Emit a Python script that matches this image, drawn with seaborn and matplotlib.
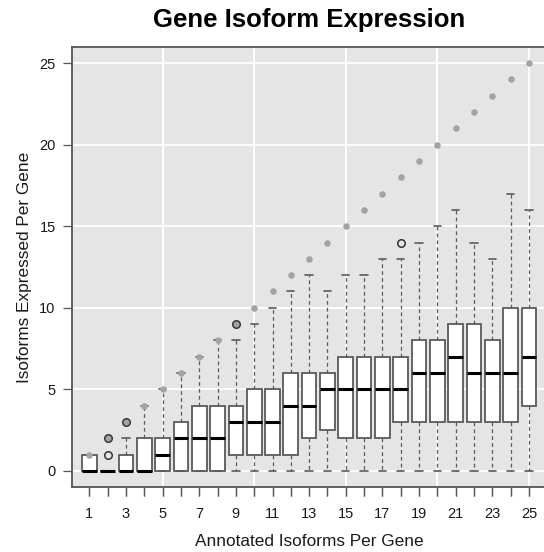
import numpy as np
import pandas as pd
import matplotlib
matplotlib.use("Agg")
import matplotlib.pyplot as plt
from matplotlib.markers import TICKDOWN
import seaborn as sns

# ---- data ----
annotated = [1, 2, 3, 4, 5, 6, 7, 8, 9, 10, 11, 12, 13, 14, 15, 16, 17, 18, 19, 20, 21, 22, 23, 24, 25]
max_possible = [1, 2, 3, 4, 5, 6, 7, 8, 9, 10, 11, 12, 13, 14, 15, 16, 17, 18, 19, 20, 21, 22, 23, 24, 25]
q1 = [0, 0, 0, 0, 0, 0, 0, 0, 1, 1, 1, 1, 2, 2.5, 2, 2, 2, 3, 3, 3, 3, 3, 3, 3, 4]
median = [0, 0, 0, 0, 1, 2, 2, 2, 3, 3, 3, 4, 4, 5, 5, 5, 5, 5, 6, 6, 7, 6, 6, 6, 7]
q3 = [1, 0, 1, 2, 2, 3, 4, 4, 4, 5, 5, 6, 6, 6, 7, 7, 7, 7, 8, 8, 9, 9, 8, 10, 10]
whisker_low = [0] * 25
whisker_high = [1, 0, 2, 4, 5, 6, 7, 8, 8, 9, 10, 11, 12, 11, 12, 12, 13, 13, 14, 15, 16, 14, 13, 17, 16]
outliers = [[], [1, 2], [3], [], [], [], [], [], [9], [], [], [], [], [], [], [], [], [14],
            [], [], [], [], [], [], []]
x_tick_labels = ["1", "", "3", "", "5", "", "7", "", "9", "", "11", "", "13", "", "15", "",
                 "17", "", "19", "", "21", "", "23", "", "25"]
x_grid = [5, 10, 15, 20, 25]
y_ticks = [0, 5, 10, 15, 20, 25]

sns.set_theme(style="darkgrid", rc={"axes.facecolor": "#e5e5e5", "grid.color": "white",
                                    "xtick.bottom": True, "ytick.left": True,
                                    "xtick.major.size": 6.5, "ytick.major.size": 6.5,
                                    "xtick.color": "#555555", "ytick.color": "#555555"})
plt.rcParams["font.family"] = ["Liberation Sans", "DejaVu Sans"]

fig = plt.figure(figsize=(5.44, 5.52), dpi=100)
W, H = 544, 552
left, right, top, bottom = 71.7, 546.6, 46.7, 487.3
ax = fig.add_axes([left / W, 1 - bottom / H, (right - left) / W, (bottom - top) / H])

stats = []
for i in range(len(annotated)):
    stats.append(dict(label=str(annotated[i]), q1=q1[i], med=median[i], q3=q3[i],
                      whislo=whisker_low[i], whishi=whisker_high[i], fliers=outliers[i]))

edge = "#5a5a5a"
ax.bxp(stats, positions=annotated, widths=0.8, capwidths=0.4, patch_artist=True,
       boxprops=dict(facecolor="white", edgecolor=edge, linewidth=1.3, zorder=2),
       medianprops=dict(color="black", linewidth=2.2, solid_capstyle="butt", zorder=3),
       whiskerprops=dict(color=edge, linewidth=0.9, linestyle=(0, (3, 2.5)), zorder=2),
       capprops=dict(color=edge, linewidth=1.2, zorder=2),
       flierprops=dict(marker="o", markersize=5.4, markerfacecolor="none",
                       markeredgecolor="#333333", markeredgewidth=1.1, zorder=5),
       manage_ticks=False)

dots = pd.DataFrame({"annotated": annotated, "max_possible": max_possible})
sns.scatterplot(data=dots, x="annotated", y="max_possible", ax=ax, color="#a3a3a3",
                s=22, linewidth=0, zorder=4, legend=False)

ax.set_xlim(0.04, 25.96)
ax.set_ylim(-1, 26)
ax.set_xticks(annotated)
ax.set_xticklabels(x_tick_labels)
ax.set_yticks(y_ticks)
ax.set_yticklabels([str(v) for v in y_ticks])
ax.set_xlabel("")
ax.set_ylabel("")

ax.grid(False)
ax.grid(True, which="major", axis="y", color="white", linewidth=1.3)
for v in x_grid:
    ax.axvline(v, color="white", linewidth=1.3, zorder=0.5)
ax.set_axisbelow(True)

for s in ["left", "top", "bottom", "right"]:
    ax.spines[s].set_visible(True)
    ax.spines[s].set_color("#555555")
    ax.spines[s].set_linewidth(1.3)

cx = ((left + right) / 2) / W
fig.text(cx, 1 - 20 / H, "Gene Isoform Expression", ha="center", va="center",
         fontsize=18.5, fontweight="bold", color="black")
fig.text(cx, 1 - 541 / H, "Annotated Isoforms Per Gene", ha="center", va="center",
         fontsize=12.4, color="#1a1a1a")
fig.text(25 / W, 1 - ((top + bottom) / 2) / H, "Isoforms Expressed Per Gene", ha="center",
         va="center", rotation=90, fontsize=12.4, color="#1a1a1a")

ax.xaxis.set_tick_params(which="major", bottom=True, direction="out", length=6.5, width=0.9,
                         color="#555555", labelsize=10.5, labelcolor="#1a1a1a", pad=8)
ax.yaxis.set_tick_params(which="major", left=True, direction="out", length=6.5, width=0.9,
                         color="#555555", labelsize=10.5, labelcolor="#1a1a1a", pad=5)

# x-axis tick marks at every category (drawn on the axis transform, below the panel)
ax.plot(annotated, [0] * len(annotated), transform=ax.get_xaxis_transform(),
        linestyle="none", marker=TICKDOWN, markersize=6.5, markeredgewidth=0.9,
        color="#555555", clip_on=False, zorder=3)

fig.savefig("out.png", dpi=100)
